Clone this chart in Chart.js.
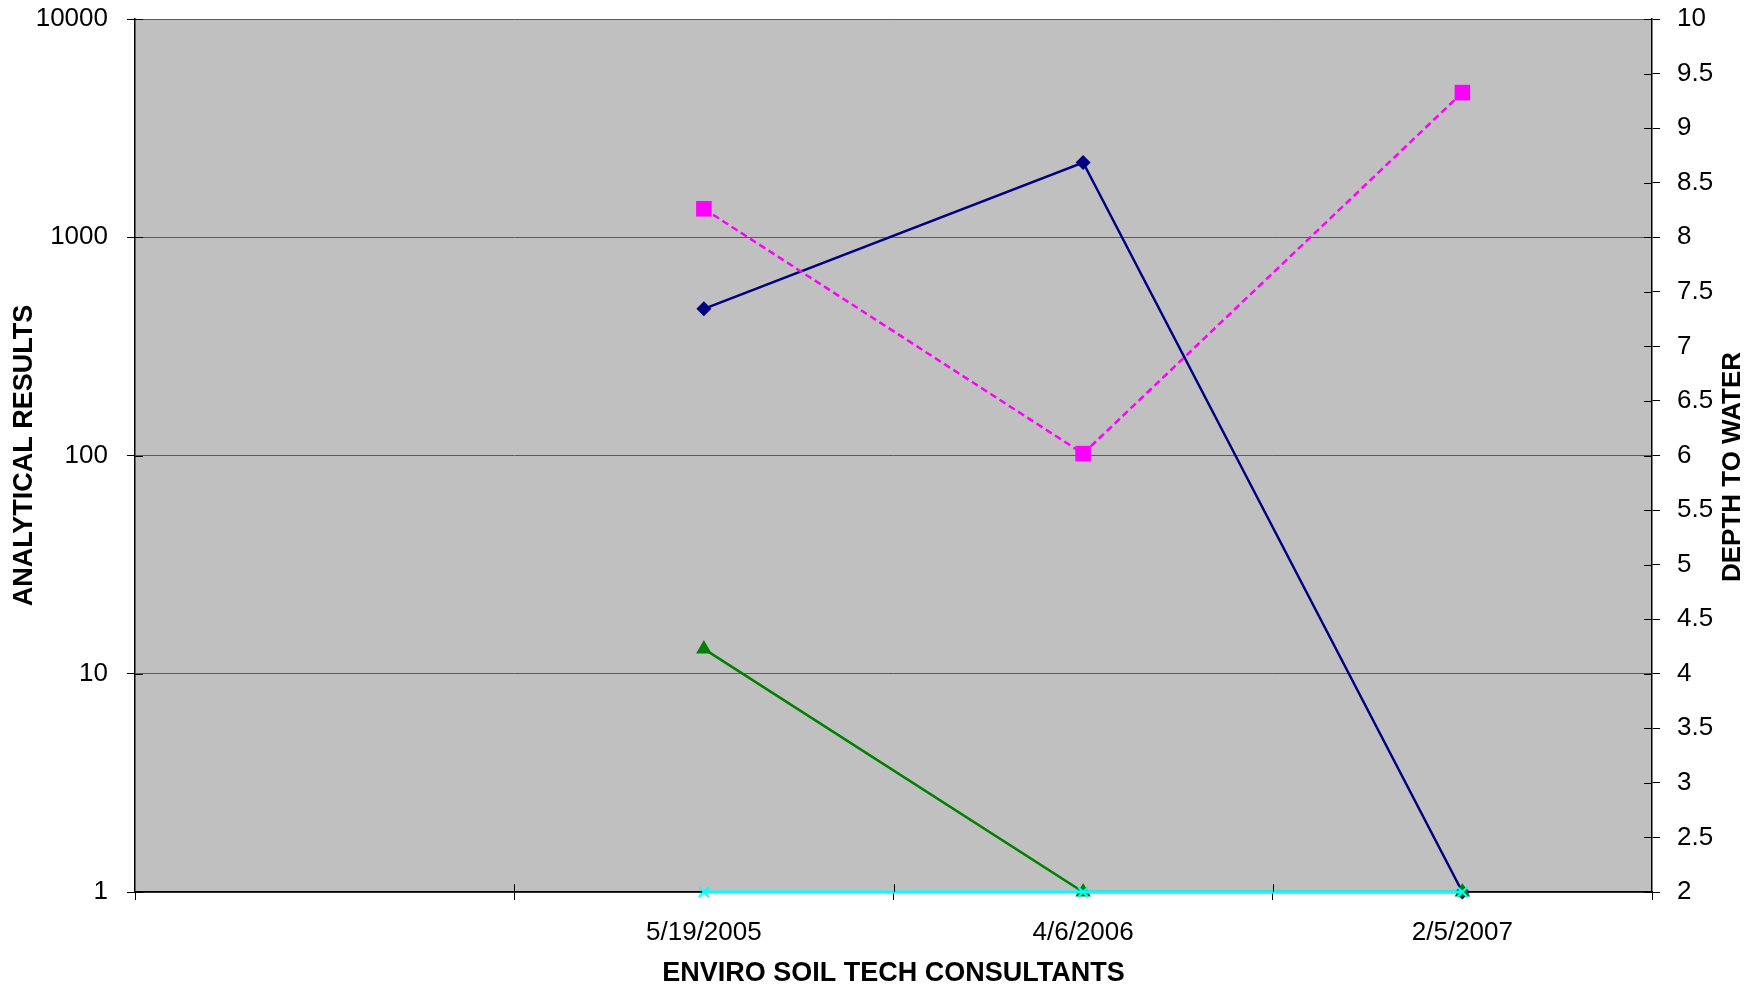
<!DOCTYPE html>
<html>
<head>
<meta charset="utf-8">
<script src="https://cdn.jsdelivr.net/npm/chart.js@4/dist/chart.umd.min.js"></script>
<style>
  html, body { margin: 0; padding: 0; background: #fff; }
  #wrap { width: 1760px; height: 988px; }
</style>
</head>
<body>
<div id="wrap"><canvas id="chart" width="1760" height="988"></canvas></div>
<script>
// sample dates (first slot is an empty category)
const dates = ['', '5/19/2005', '4/6/2006', '2/5/2007'];

// analytical results, log scale
const seriesNavy = [null, 470, 2200, 1];
const seriesMagenta = [null, 1350, 102, 4600];
const seriesGreen = [null, 13, 1, 1];
const seriesCyan = [null, 1, 1, 1];

const leftTicks = [1, 10, 100, 1000, 10000];
const rightMin = 2, rightMax = 10, rightStep = 0.5;

const FONT = "'Liberation Sans', Arial, sans-serif";

// grey plot background
const plotBg = {
  id: 'plotBg',
  beforeDraw(chart) {
    const { ctx, chartArea: a } = chart;
    ctx.save();
    ctx.fillStyle = '#C0C0C0';
    ctx.fillRect(a.left, a.top, a.right - a.left, a.bottom - a.top);
    ctx.restore();
  }
};

// tick marks that cross into the plot, plus the right axis title
const extras = {
  id: 'extras',
  afterDatasetsDraw(chart) {
    const { ctx, chartArea: a, scales } = chart;
    ctx.save();
    ctx.strokeStyle = '#000';
    ctx.lineWidth = 1;
    ctx.beginPath();
    scales.y1.ticks.forEach((t, i) => {
      const y = Math.round(scales.y1.getPixelForTick(i)) + 0.5;
      ctx.moveTo(a.right - 8, y); ctx.lineTo(a.right, y);
    });
    scales.y.ticks.forEach((t, i) => {
      const y = Math.round(scales.y.getPixelForTick(i)) + 0.5;
      ctx.moveTo(a.left, y); ctx.lineTo(a.left + 8, y);
    });
    const half = (scales.x.getPixelForValue(1) - scales.x.getPixelForValue(0)) / 2;
    for (let i = 1; i < dates.length; i++) {
      const x = Math.round(scales.x.getPixelForValue(i) - half) + 0.5;
      ctx.moveTo(x, a.bottom - 8); ctx.lineTo(x, a.bottom);
    }
    ctx.stroke();
    ctx.restore();
  },
  afterDraw(chart) {
    const { ctx } = chart;
    ctx.save();
    ctx.translate(1733, 467);
    ctx.rotate(-Math.PI / 2);
    ctx.fillStyle = '#000';
    ctx.font = 'bold 26px ' + FONT;
    ctx.textAlign = 'center';
    ctx.textBaseline = 'middle';
    ctx.fillText('DEPTH TO WATER', 0, 0);
    ctx.restore();
  }
};

function noVertPad(s) {
  s.paddingTop = 0;
  s.paddingBottom = 0;
}

new Chart(document.getElementById('chart'), {
  type: 'line',
  data: {
    labels: dates,
    datasets: [
      {
        label: 'Series 1', data: seriesNavy, yAxisID: 'y', order: 4,
        borderColor: '#000080', backgroundColor: '#000080', borderWidth: 2.5,
        pointStyle: 'rectRot', pointRadius: 7.5, pointBorderWidth: 0, clip: false
      },
      {
        label: 'Series 2', data: seriesMagenta, yAxisID: 'y', order: 3,
        borderColor: '#FF00FF', backgroundColor: '#FF00FF', borderWidth: 2.5, borderDash: [7, 4],
        pointStyle: 'rect', pointRadius: 11, pointBorderWidth: 0, clip: false
      },
      {
        label: 'Series 3', data: seriesGreen, yAxisID: 'y', order: 2,
        borderColor: '#008000', backgroundColor: '#008000', borderWidth: 2.5,
        pointStyle: 'triangle', pointRadius: 9, pointBorderWidth: 0, clip: false
      },
      {
        label: 'Series 4', data: seriesCyan, yAxisID: 'y', order: 1,
        borderColor: '#00FFFF', backgroundColor: '#00FFFF', borderWidth: 3,
        pointStyle: 'crossRot', pointRadius: 7, pointBorderWidth: 2, pointBorderColor: '#00FFFF', clip: false
      }
    ]
  },
  options: {
    responsive: false,
    animation: false,
    events: [],
    layout: { padding: { top: 19, left: 0, right: 0, bottom: 0 } },
    plugins: { legend: { display: false }, tooltip: { enabled: false } },
    elements: { line: { tension: 0 } },
    scales: {
      x: {
        type: 'category',
        offset: true,
        grid: { offset: true, drawOnChartArea: false, drawTicks: true, tickLength: 8, color: '#000' },
        border: { color: '#000', width: 1.5 },
        ticks: { color: '#000', font: { family: FONT, size: 26 }, padding: 17, maxRotation: 0, autoSkip: false },
        title: {
          display: true, text: 'ENVIRO SOIL TECH CONSULTANTS', color: '#000',
          font: { family: FONT, size: 27, weight: 'bold', lineHeight: 1 }, padding: { top: 0, bottom: 1 }
        },
        afterFit(s) { s.height = 96; }
      },
      y: {
        type: 'logarithmic',
        position: 'left',
        min: 1, max: 10000,
        afterBuildTicks(s) { s.ticks = leftTicks.map(v => ({ value: v })); },
        grid: { color: '#5a5a5a', tickColor: '#000', tickLength: 8, lineWidth: 1 },
        border: { color: '#000', width: 1.5 },
        ticks: { color: '#000', font: { family: FONT, size: 26 }, padding: 19, callback: v => String(v) },
        title: {
          display: true, text: 'ANALYTICAL RESULTS', color: '#000',
          font: { family: FONT, size: 27, weight: 'bold', lineHeight: 1 }, padding: { top: 11, bottom: 0 }
        },
        afterFit(s) { s.width = 135; noVertPad(s); }
      },
      y1: {
        type: 'linear',
        position: 'right',
        min: rightMin, max: rightMax,
        grid: { drawOnChartArea: false, tickLength: 8, color: '#000' },
        border: { color: '#000', width: 1.5 },
        ticks: {
          stepSize: rightStep, color: '#000', font: { family: FONT, size: 26 }, padding: 17,
          callback: v => String(Number(v))
        },
        afterFit(s) { s.width = 108; noVertPad(s); }
      }
    }
  },
  plugins: [plotBg, extras]
});
</script>
</body>
</html>
